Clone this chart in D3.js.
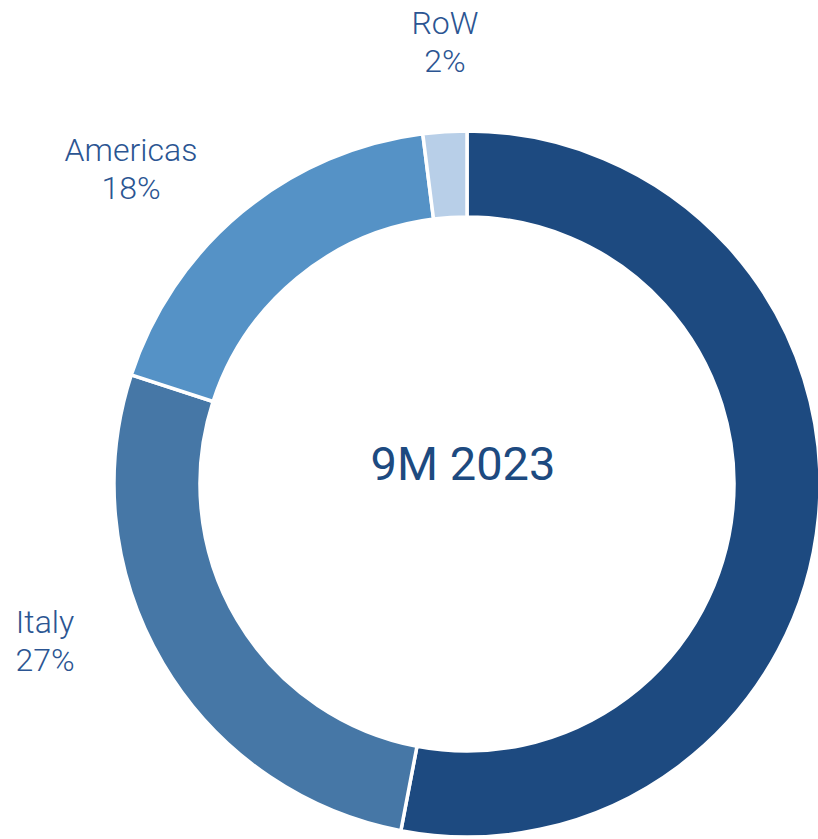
<!DOCTYPE html>
<html>
<head>
<meta charset="utf-8">
<script src="https://cdn.jsdelivr.net/npm/d3@7"></script>
<style>
  body { margin: 0; background: #fff; }
  svg { display: block; font-family: Roboto, "Noto Sans", sans-serif; }
</style>
</head>
<body>
<svg id="chart" width="818" height="839"></svg>
<script>
// data, clockwise from 12 o'clock
const regions = ["", "Italy", "Americas", "RoW"];
const shares = [53, 27, 18, 2];
const colors = ["#1d4a80", "#4677a6", "#5592c6", "#b8cfe8"];
// label anchor (x, baseline of first line) for labelled slices
const labelPos = [null, [45, 633], [131, 161], [445, 34]];
const centerTitle = "9M 2023";

const width = 818, height = 839;
const cx = 467, cy = 484;
const outerR = 353, innerR = 267;

const svg = d3.select("#chart");
const g = svg.append("g").attr("transform", `translate(${cx},${cy})`);

const pie = d3.pie().sort(null).value((d) => d.v);
const arc = d3.arc().innerRadius(innerR).outerRadius(outerR);

const data = regions.map((r, i) => ({ name: r, v: shares[i], col: colors[i], lab: labelPos[i] }));

g.selectAll("path")
  .data(pie(data))
  .join("path")
  .attr("d", arc)
  .attr("fill", (d) => d.data.col)
  .attr("stroke", "#fff")
  .attr("stroke-width", 3.5)
  .attr("stroke-linejoin", "miter");

// slice labels
const labels = svg.append("g")
  .selectAll("text")
  .data(data.filter((d) => d.lab))
  .join("text")
  .attr("x", (d) => d.lab[0])
  .attr("y", (d) => d.lab[1])
  .attr("text-anchor", "middle")
  .attr("font-size", "32px")
  .attr("font-weight", 300)
  .attr("fill", "#2b5592");

labels.append("tspan").text((d) => d.name);
labels.append("tspan")
  .attr("x", (d) => d.lab[0])
  .attr("dy", 38)
  .text((d) => `${d.v}%`);

// centre title
svg.append("text")
  .attr("x", 463)
  .attr("y", 480)
  .attr("text-anchor", "middle")
  .attr("font-size", "47px")
  .attr("fill", "#1d4a80")
  .text(centerTitle);
</script>
</body>
</html>
